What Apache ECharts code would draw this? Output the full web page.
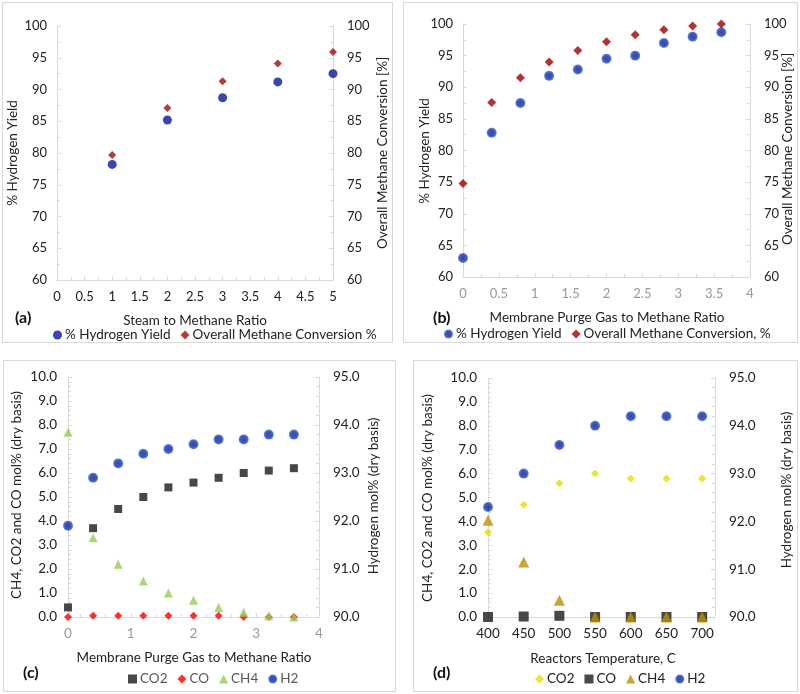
<!DOCTYPE html>
<html><head><meta charset="utf-8">
<script src="https://cdn.jsdelivr.net/npm/echarts@6/dist/echarts.min.js"></script>
<style>
body{margin:0;background:#fff;width:800px;height:694px;position:relative;overflow:hidden}
.b{position:absolute;border:1px solid #d9d9d9;box-sizing:border-box;pointer-events:none}
.c{position:absolute}
</style></head><body>
<div class="b" style="left:2px;top:2px;width:391px;height:341px"></div>
<div class="b" style="left:403px;top:2px;width:395px;height:341px"></div>
<div class="b" style="left:3px;top:360px;width:393px;height:332px"></div>
<div class="b" style="left:413px;top:360px;width:385px;height:332px"></div>
<div id="ca" class="c" style="left:2px;top:2px;width:391px;height:341px"></div>
<div id="cb" class="c" style="left:403px;top:2px;width:395px;height:341px"></div>
<div id="cc" class="c" style="left:3px;top:360px;width:393px;height:332px"></div>
<div id="cd" class="c" style="left:413px;top:360px;width:385px;height:332px"></div>
<script>
// ---- data ----
const steamRatio = [1, 2, 3, 4, 5];
const h2YieldA = [78.2, 85.2, 88.7, 91.2, 92.5];
const convA = [79.7, 87.1, 91.3, 94.1, 95.9];

const purgeRatio = [0, 0.4, 0.8, 1.2, 1.6, 2.0, 2.4, 2.8, 3.2, 3.6];
const h2YieldB = [63.0, 82.8, 87.5, 91.8, 92.8, 94.5, 95.0, 97.0, 98.0, 98.7];
const convB = [74.8, 87.6, 91.5, 94.0, 95.8, 97.2, 98.3, 99.1, 99.7, 100.0];

const co2C = [0.4, 3.7, 4.5, 5.0, 5.4, 5.6, 5.8, 6.0, 6.1, 6.2];
const coC = [0.0, 0.05, 0.05, 0.05, 0.05, 0.05, 0.05, 0.0, 0.0, 0.0];
const ch4C = [7.7, 3.3, 2.2, 1.5, 1.0, 0.7, 0.4, 0.2, 0.05, 0.0];
const h2C = [91.9, 92.9, 93.2, 93.4, 93.5, 93.6, 93.7, 93.7, 93.8, 93.8];

const tempD = [400, 450, 500, 550, 600, 650, 700];
const co2D = [3.55, 4.7, 5.6, 6.0, 5.8, 5.8, 5.8];
const coD = [0.0, 0.02, 0.05, 0.0, 0.0, 0.0, 0.0];
const ch4D = [4.05, 2.3, 0.7, 0.0, 0.0, 0.0, 0.0];
const h2D = [92.3, 93.0, 93.6, 94.0, 94.2, 94.2, 94.2];

// ---- helpers ----
const FONT = 'Lato';
const zip = (xs, ys) => xs.map((x, i) => [x, ys[i]]);
function axis(o) {
  return Object.assign({
    type: 'value',
    axisLine: { show: true, lineStyle: { color: '#d9d9d9', width: 1 } },
    axisTick: { show: true, inside: true, length: 4, lineStyle: { color: '#d9d9d9' } },
    minorTick: { show: true, splitNumber: 2, length: 3, lineStyle: { color: '#d9d9d9' } },
    splitLine: { show: false },
    axisLabel: { color: '#222', fontFamily: FONT, fontSize: 13, margin: 10 }
  }, o);
}
function lbl(color, size, margin, extra) {
  return Object.assign({ color: color, fontFamily: FONT, fontSize: size, margin: margin }, extra || {});
}
function txt(x, y, s, rot, size) {
  return {
    type: 'text', x: x, y: y, rotation: rot || 0,
    style: { text: s, fill: '#222', font: (size || 13.5) + 'px ' + FONT, textAlign: 'center', textVerticalAlign: 'middle' }
  };
}
function panelLabel(x, y, s) {
  return { type: 'text', x: x, y: y, style: { text: s, fill: '#111', font: 'bold 16px ' + FONT, textAlign: 'left', textVerticalAlign: 'middle' } };
}
function legend(left, top, names, color) {
  return { left: left, top: top, itemWidth: 9, itemHeight: 9, itemGap: 10, data: names,
    textStyle: { fontFamily: FONT, fontSize: 13.5, color: color || '#222', padding: [0, 0, 0, -2] } };
}
const PI2 = Math.PI / 2;
const blueBall = { color: { type: 'radial', x: 0.5, y: 0.5, r: 0.5, colorStops: [{ offset: 0, color: '#0a1c8f' }, { offset: 0.6, color: '#0d2aa8' }, { offset: 1, color: '#3d6fd6' }] } };
const mt5 = { show: true, splitNumber: 5, length: 3, lineStyle: { color: '#d9d9d9' } };
const fmt1 = v => v.toFixed(1);

// ---- (a) ----
echarts.init(document.getElementById('ca')).setOption({
  animation: false,
  grid: { left: 55, right: 60, top: 24, bottom: 63 },
  xAxis: axis({ min: 0, max: 5, interval: 0.5, axisLabel: lbl('#222', 13, 10) }),
  yAxis: [
    axis({ min: 60, max: 100, interval: 5, axisLabel: lbl('#222', 13, 10) }),
    axis({ min: 60, max: 100, interval: 5, position: 'right', axisLabel: lbl('#222', 13, 14) })
  ],
  legend: legend(46, 321, ['% Hydrogen Yield', 'Overall Methane Conversion %']),
  series: [
    { name: '% Hydrogen Yield', type: 'scatter', symbol: 'circle', symbolSize: 9, itemStyle: { color: '#0a189c' }, data: zip(steamRatio, h2YieldA) },
    { name: 'Overall Methane Conversion %', type: 'scatter', symbol: 'diamond', symbolSize: 8, itemStyle: { color: '#a00b0b' }, data: zip(steamRatio, convA) }
  ],
  graphic: [
    txt(11, 151, '% Hydrogen Yield', PI2),
    txt(381, 151, 'Overall Methane Conversion [%]', PI2),
    txt(193, 319, 'Steam to Methane Ratio'),
    panelLabel(13, 316, '(a)')
  ]
});

// ---- (b) ----
echarts.init(document.getElementById('cb')).setOption({
  animation: false,
  grid: { left: 60, right: 48, top: 22, bottom: 66 },
  xAxis: axis({ min: 0, max: 4, interval: 0.5, axisLabel: lbl('#999', 13, 10) }),
  yAxis: [
    axis({ min: 60, max: 100, interval: 5, axisLabel: lbl('#222', 13, 10) }),
    axis({ min: 60, max: 100, interval: 5, position: 'right', axisLabel: lbl('#222', 13, 14) })
  ],
  legend: legend(36, 320, ['% Hydrogen Yield', 'Overall Methane Conversion, %']),
  series: [
    { name: '% Hydrogen Yield', type: 'scatter', symbol: 'circle', symbolSize: 10, itemStyle: blueBall, data: zip(purgeRatio, h2YieldB) },
    { name: 'Overall Methane Conversion, %', type: 'scatter', symbol: 'diamond', symbolSize: 9, itemStyle: { color: '#a00000' }, data: zip(purgeRatio, convB) }
  ],
  graphic: [
    txt(22, 149, '% Hydrogen Yield', PI2),
    txt(385, 147, 'Overall Methane Conversion [%]', PI2),
    txt(204, 316, 'Membrane Purge Gas to Methane Ratio'),
    panelLabel(30, 316, '(b)')
  ]
});

// ---- (c) ----
echarts.init(document.getElementById('cc')).setOption({
  animation: false,
  grid: { left: 65, right: 77, top: 17, bottom: 75 },
  xAxis: axis({ min: 0, max: 4, interval: 1, minorTick: mt5, axisLabel: lbl('#999', 13.5, 10) }),
  yAxis: [
    axis({ min: 0, max: 10, interval: 1, minorTick: mt5, axisLabel: lbl('#222', 13.5, 11, { formatter: fmt1 }) }),
    axis({ min: 90, max: 95, interval: 1, position: 'right', minorTick: mt5, axisLabel: lbl('#222', 13.5, 14, { formatter: fmt1 }) })
  ],
  legend: legend(120, 307, ['CO2', 'CO', 'CH4', 'H2'], '#595959'),
  series: [
    { name: 'CO2', type: 'scatter', symbol: 'rect', symbolSize: 8, itemStyle: { color: '#1a1a1a' }, data: zip(purgeRatio, co2C) },
    { name: 'CO', type: 'scatter', symbol: 'diamond', symbolSize: 8, itemStyle: { color: '#ff0000' }, data: zip(purgeRatio, coC) },
    { name: 'CH4', type: 'scatter', symbol: 'triangle', symbolSize: 9, itemStyle: { color: '#92d050' }, data: zip(purgeRatio, ch4C) },
    { name: 'H2', type: 'scatter', symbol: 'circle', symbolSize: 10, yAxisIndex: 1, itemStyle: blueBall, data: zip(purgeRatio, h2C) }
  ],
  graphic: [
    txt(14, 135, 'CH4, CO2 and CO mol% (dry basis)', PI2),
    txt(371, 136, 'Hydrogen mol% (dry basis)', PI2),
    txt(191, 298, 'Membrane Purge Gas to Methane Ratio'),
    panelLabel(20, 313, '(c)')
  ]
});

// ---- (d) ----
echarts.init(document.getElementById('cd')).setOption({
  animation: false,
  grid: { left: 75, right: 83, top: 18, bottom: 75 },
  xAxis: axis({ min: 400, max: 718, interval: 50, axisTick: { show: false }, minorTick: { show: false },
    axisLabel: lbl('#222', 13.5, 10, { showMaxLabel: false }) }),
  yAxis: [
    axis({ min: 0, max: 10, interval: 1, minorTick: mt5, axisLabel: lbl('#222', 13.5, 11, { formatter: fmt1 }) }),
    axis({ min: 90, max: 95, interval: 1, position: 'right', minorTick: mt5, axisLabel: lbl('#222', 13.5, 14, { formatter: fmt1 }) })
  ],
  legend: legend(117, 307, ['CO2', 'CO', 'CH4', 'H2']),
  series: [
    { name: 'CO2', type: 'scatter', symbol: 'diamond', symbolSize: 8, itemStyle: { color: '#e0e000' }, data: zip(tempD, co2D) },
    { name: 'CO', type: 'scatter', symbol: 'rect', symbolSize: 10, itemStyle: { color: '#1a1a1a' }, data: zip(tempD, coD) },
    { name: 'CH4', type: 'scatter', symbol: 'triangle', symbolSize: 11, itemStyle: { color: '#bf9000' }, data: zip(tempD, ch4D) },
    { name: 'H2', type: 'scatter', symbol: 'circle', symbolSize: 10, yAxisIndex: 1, itemStyle: blueBall, data: zip(tempD, h2D) }
  ],
  graphic: [
    txt(15, 138, 'CH4, CO2 and CO mol% (dry basis)', PI2),
    txt(374, 130, 'Hydrogen mol% (dry basis)', PI2),
    txt(190, 299, 'Reactors Temperature, C'),
    panelLabel(20, 313, '(d)')
  ]
});
</script>
</body></html>
